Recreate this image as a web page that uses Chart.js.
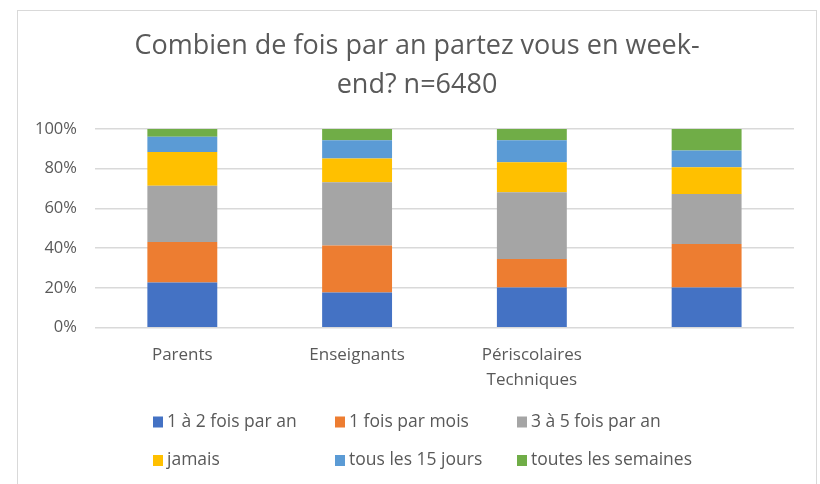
<!DOCTYPE html>
<html>
<head>
<meta charset="utf-8">
<script src="https://cdn.jsdelivr.net/npm/chart.js@4"></script>
<style>
  html, body { margin: 0; padding: 0; background: #fff; }
  #frame { position: absolute; left: 17px; top: 10px; width: 800px; height: 500px; border: 1px solid #d9d9d9; box-sizing: border-box; }
  #wrap { position: absolute; left: 0; top: 0; width: 820px; height: 484px; }
</style>
</head>
<body>
<div id="frame"></div>
<div id="wrap"><canvas id="c"></canvas></div>
<script>
// catégories et séries (en %)
const categories = ['Parents', 'Enseignants', ['Périscolaires', 'Techniques'], ''];
const unADeuxParAn   = [22.7, 17.7, 20.2, 20.2];
const unParMois      = [20.4, 23.7, 14.4, 21.9];
const troisACinqAn   = [28.4, 31.8, 33.6, 25.2];
const jamais         = [16.9, 12.0, 15.1, 13.5];
const tousLes15Jours = [7.7, 9.2, 11.1, 8.4];
const toutesSemaines = [3.9, 5.6, 5.6, 10.8];
const yTicks = [0, 20, 40, 60, 80, 100];
const titleLines = ['Combien de fois par an partez vous en week-', 'end? n=6480'];

const textColor = '#595959';
const font = 'Open Sans';

// titre centré sur le cadre (et pas sur la zone du graphique)
const frameTitle = {
    id: 'frameTitle',
    afterDraw(chart, args, opts) {
        const ctx = chart.ctx;
        ctx.save();
        ctx.font = opts.size + 'px "' + font + '"';
        ctx.fillStyle = textColor;
        ctx.textAlign = 'center';
        ctx.textBaseline = 'middle';
        titleLines.forEach((t, i) => ctx.fillText(t, opts.x, opts.top + i * opts.lineHeight));
        ctx.restore();
    }
};

// légende en grille 3 colonnes, comme dans Excel
const gridLegend = {
    id: 'gridLegend',
    afterDraw(chart, args, opts) {
        const ctx = chart.ctx;
        ctx.save();
        ctx.font = opts.size + 'px "' + font + '"';
        ctx.textBaseline = 'middle';
        ctx.textAlign = 'left';
        chart.data.datasets.forEach((ds, i) => {
            const col = i % 3, row = Math.floor(i / 3);
            const x = opts.left + col * opts.colWidth;
            const y = opts.top + row * opts.rowHeight;
            ctx.fillStyle = ds.backgroundColor;
            ctx.fillRect(x, y - 5.5, 10, 11);
            ctx.fillStyle = textColor;
            ctx.fillText(ds.label, x + 14, y);
        });
        ctx.restore();
    }
};

new Chart(document.getElementById('c').getContext('2d'), {
    type: 'bar',
    data: {
        labels: categories,
        datasets: [
            { label: '1 à 2 fois par an', data: unADeuxParAn, backgroundColor: '#4472C4' },
            { label: '1 fois par mois', data: unParMois, backgroundColor: '#ED7D31' },
            { label: '3 à 5 fois par an', data: troisACinqAn, backgroundColor: '#A5A5A5' },
            { label: 'jamais', data: jamais, backgroundColor: '#FFC000' },
            { label: 'tous les 15 jours', data: tousLes15Jours, backgroundColor: '#5B9BD5' },
            { label: 'toutes les semaines', data: toutesSemaines, backgroundColor: '#70AD47' }
        ]
    },
    options: {
        responsive: true, maintainAspectRatio: false, animation: false,
        layout: { padding: { left: 17, right: 26, top: 129, bottom: 85 } },
        datasets: { bar: { barPercentage: 0.4, categoryPercentage: 1 } },
        scales: {
            x: {
                stacked: true,
                grid: { display: false },
                border: { display: false },
                ticks: { color: textColor, font: { family: font, size: 17, lineHeight: 1.45 }, padding: 7, maxRotation: 0 }
            },
            y: {
                stacked: true, min: 0, max: 100,
                afterBuildTicks: axis => { axis.ticks = yTicks.map(v => ({ value: v })); },
                grid: { color: '#d9d9d9', lineWidth: 1.5, drawTicks: false },
                border: { display: false },
                ticks: { color: textColor, font: { family: font, size: 16.5 }, padding: 18, callback: v => v + '%' }
            }
        },
        plugins: {
            legend: { display: false },
            tooltip: { enabled: false },
            title: { display: false },
            frameTitle: { x: 417, top: 46, lineHeight: 39, size: 27 },
            gridLegend: { left: 153, top: 422, colWidth: 182, rowHeight: 38.5, size: 17.5 }
        }
    },
    plugins: [frameTitle, gridLegend]
});
</script>
</body>
</html>
